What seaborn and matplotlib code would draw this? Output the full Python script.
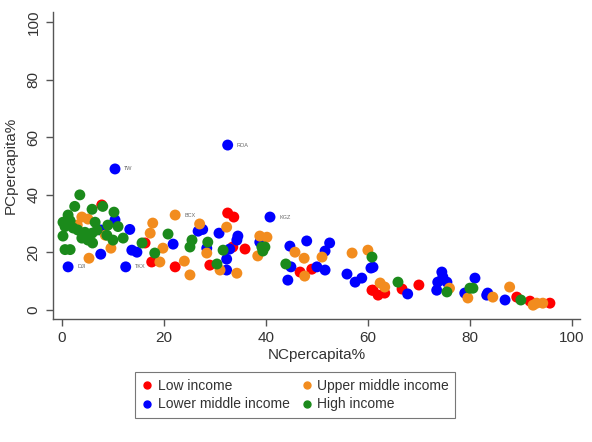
import matplotlib
matplotlib.use("Agg")
import matplotlib.pyplot as plt
import seaborn as sns
import pandas as pd

# NCD and communicable-disease shares per capita, by World Bank income group
low_nc = [7.8, 16.3, 17.6, 32.5, 33.7, 35.9, 33.5, 22.2, 29.0, 46.7, 49.0, 60.8,
          61.0, 63.3, 66.7, 70.0, 89.2, 91.8, 95.7, 62.0]
low_pc = [36.5, 23.3, 16.7, 33.7, 32.3, 21.2, 21.9, 15.0, 15.6, 13.2, 14.2, 6.9,
          6.9, 5.9, 7.3, 8.7, 4.5, 3.1, 2.4, 5.2]

lmid_nc = [10.4, 32.5, 1.2, 7.6, 12.5, 13.3, 10.4, 7.6, 13.7, 14.7, 21.8, 26.7,
           27.6, 30.8, 34.5, 34.3, 28.4, 32.9, 38.8, 32.3, 32.3, 40.8, 44.7, 48.0,
           52.5, 51.6, 44.9, 50.0, 51.6, 55.9, 44.3, 57.5, 58.8, 60.6, 61.0, 67.8,
           74.5, 74.7, 73.7, 75.5, 73.5, 81.0, 79.0, 83.5, 83.3, 86.9]
lmid_pc = [49.0, 57.3, 15.0, 19.4, 15.0, 28.0, 31.3, 27.8, 20.8, 20.1, 22.9, 27.4,
           28.0, 26.7, 25.7, 24.3, 21.5, 21.2, 23.6, 17.7, 13.9, 32.3, 22.2, 24.0,
           23.3, 20.5, 15.0, 15.0, 13.9, 12.5, 10.4, 9.7, 11.1, 14.6, 14.9, 5.6,
           13.2, 11.5, 9.7, 9.7, 6.9, 11.1, 5.9, 5.9, 5.2, 3.5]

umid_nc = [3.9, 5.1, 17.8, 17.3, 9.6, 5.3, 22.2, 27.0, 32.3, 38.8, 19.8, 38.4,
           19.2, 25.1, 34.3, 31.0, 28.4, 40.2, 45.7, 47.5, 51.0, 56.9, 60.0, 47.6,
           62.4, 63.3, 76.0, 79.6, 87.8, 93.1, 94.3, 92.4, 84.5, 3.0, 8.5, 24.0]
umid_pc = [32.3, 31.6, 30.2, 26.7, 21.5, 18.0, 33.0, 29.9, 28.8, 25.7, 21.5, 18.8,
           16.7, 12.2, 12.8, 13.9, 19.8, 25.3, 20.1, 18.0, 18.4, 19.8, 20.8, 11.8,
           9.4, 8.0, 7.6, 4.2, 8.0, 2.4, 2.4, 1.7, 4.5, 29.5, 26.0, 17.0]

high_nc = [3.5, 2.5, 5.9, 8.0, 10.2, 1.2, 0.2, 1.6, 0.6, 2.2, 3.1, 4.5, 6.5, 9.0,
           11.0, 0.2, 3.9, 5.1, 10.0, 12.0, 6.0, 0.6, 1.6, 15.7, 18.2, 6.9, 8.8,
           5.9, 20.8, 25.5, 28.6, 25.1, 31.6, 39.2, 39.4, 30.4, 43.9, 39.8, 60.8,
           65.9, 75.5, 80.0, 80.6, 90.0]
high_pc = [40.0, 36.0, 35.0, 36.0, 34.0, 33.0, 30.5, 31.0, 29.0, 28.5, 27.8, 27.0,
           30.5, 29.5, 29.0, 25.7, 25.0, 24.3, 24.3, 25.0, 23.3, 21.0, 21.0, 23.3,
           19.8, 27.8, 26.0, 26.7, 26.4, 24.3, 23.6, 21.9, 20.8, 21.9, 20.5, 16.0,
           16.0, 21.9, 18.4, 9.7, 6.3, 7.6, 7.6, 3.5]

groups = ["Low income", "Lower middle income", "Upper middle income", "High income"]
colors = ["#ff0000", "#0000ff", "#f28c1e", "#1b8a1b"]

frames = []
for g, nc, pc in zip(groups, [low_nc, lmid_nc, umid_nc, high_nc],
                     [low_pc, lmid_pc, umid_pc, high_pc]):
    frames.append(pd.DataFrame({"NCpercapita%": nc, "PCpercapita%": pc, "group": g}))
df = pd.concat(frames, ignore_index=True)

sns.set_theme(style="white")
plt.rcParams["font.family"] = ["Liberation Sans", "DejaVu Sans"]

fig = plt.figure(figsize=(5.92, 4.42), dpi=100)
ax = fig.add_axes([53 / 592, 1 - 319 / 442, 527 / 592, 307 / 442])

sns.scatterplot(data=df, x="NCpercapita%", y="PCpercapita%", hue="group",
                hue_order=groups, palette=colors, s=62, linewidth=0,
                alpha=1.0, ax=ax, legend=False, zorder=3)

ax.set_xlim(-1.76, 101.6)
ax.set_ylim(-3.1, 103.5)
ax.set_xticks([0, 20, 40, 60, 80, 100])
ax.set_yticks([0, 20, 40, 60, 80, 100])
for s in ["top", "right"]:
    ax.spines[s].set_visible(False)
for s in ["left", "bottom"]:
    ax.spines[s].set_color("#555555")
    ax.spines[s].set_linewidth(1.0)
ax.tick_params(axis="both", direction="out", length=5, width=1.0,
               color="#555555", labelsize=11, labelcolor="#333333",
               bottom=True, left=True, pad=4)
for lab in ax.get_yticklabels():
    lab.set_rotation(90)
    lab.set_va("center")
ax.set_xlabel("NCpercapita%", fontsize=11, color="#333333", labelpad=2)
ax.set_ylabel("PCpercapita%", fontsize=11, color="#333333")
ax.yaxis.set_label_coords(-0.066, 0.5)

# country code tags beside a few points
tags = [(32.5, 57.3, "ROA"), (10.4, 49.0, "TW"), (40.8, 32.3, "KGZ"),
        (22.2, 33.0, "BCX"), (1.2, 15.0, "DJI"), (12.5, 15.0, "TKX")]
for x, y, t in tags:
    ax.text(x + 1.8, y, t, fontsize=4, color="#666666", va="center", zorder=4)

handles = [plt.Line2D([], [], marker="o", linestyle="", color=c, markersize=5)
           for c in colors]
leg = fig.legend(handles, groups,
                 loc="center", bbox_to_anchor=(295 / 592, 1 - 395 / 442),
                 ncol=2, fontsize=10, frameon=True, fancybox=False,
                 edgecolor="#555555", handletextpad=0.3, columnspacing=0.8,
                 borderpad=0.45, labelspacing=0.35, handlelength=0.9)
leg.get_frame().set_linewidth(0.8)
for t in leg.get_texts():
    t.set_color("#333333")

fig.savefig("out.png", dpi=100, facecolor="white")
